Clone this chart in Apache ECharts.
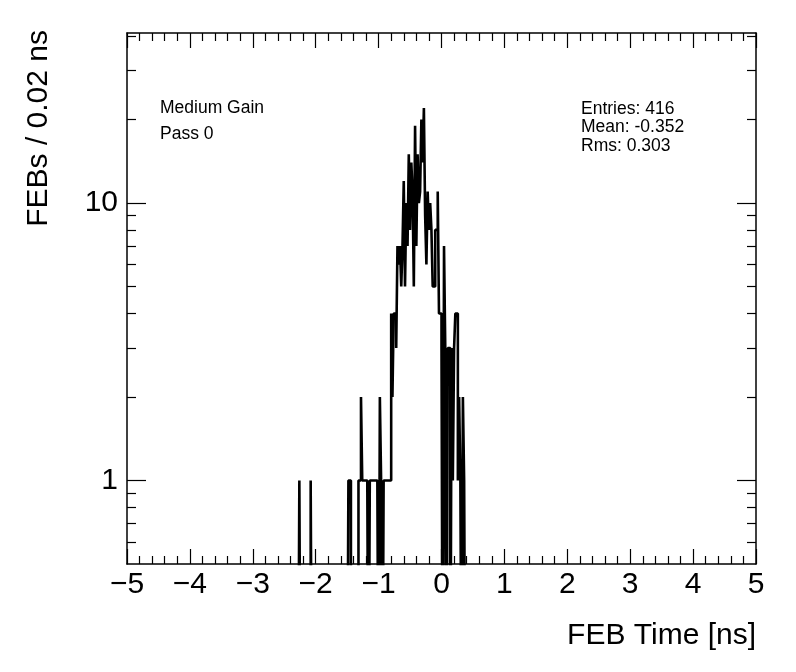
<!DOCTYPE html>
<html><head><meta charset="utf-8">
<script src="https://cdn.jsdelivr.net/npm/echarts@6/dist/echarts.min.js"></script>
<style>html,body{margin:0;padding:0;background:#fff}#c{width:796px;height:672px}</style>
</head><body><div id="c"></div>
<script>
// Histogram definition: bins of 0.02 ns; counts start at the bin whose low edge is firstBinLow
const binWidth = 0.02;
const firstBinLow = -2.28;
const counts = [
  0,1,0,0,0,0,0,0,0,0,1,
  0,0,0,0,0,0,0,0,0,0,0,0,0,0,0,0,0,0,0,0,0,0,0,0,0,0,0,0,0,
  1,1,0,0,0,0,0,0,
  1,1,2,1,1,1,1,1,0,1,1,1,1,1,1,1,0,2,1,0,1,1,1,1,1,1,
  4,2,4,4,3,7,6,7,5,7,
  12,5,10,7,15,8,14,11,5,19,
  7,15,10,11,20,14,22,9,6,11,
  8,10,8,5,5,8,8,11,4,4,
  3,0,7,3,0,3,3,0,3,1,
  3,4,4,1,2,1,0,2,1,0,
  0
];
const xTickValues = [-5,-4,-3,-2,-1,0,1,2,3,4,5];
const yLabelValues = [1, 10];
const yMinorTickValues = [0.6,0.7,0.8,0.9,2,3,4,5,6,7,8,9,20,30,40];
const infoLines = ['Medium Gain', 'Pass 0'];
const statLines = ['Entries: 416', 'Mean: -0.352', 'Rms: 0.303'];
const xTitle = 'FEB Time [ns]';
const yTitle = 'FEBs / 0.02 ns';

const FONT = '"Liberation Sans", Arial, Helvetica, sans-serif';
const ZERO_FLOOR = 0.1; // empty bins drop below the frame (clipped), as in ROOT log plots
const histData = counts.map((c, i) => [+(firstBinLow + i * binWidth).toFixed(2), c > 0 ? c : ZERO_FLOOR]);

const black = '#000';
const frameLine = { show: true, onZero: false, lineStyle: { color: black, width: 1.5 } };
const hiddenLine = { show: false, onZero: false };
const tickStyle = { color: black, width: 1.2 };

const xBase = { type: 'value', min: -5, max: 5, interval: 1, splitLine: { show: false }, minorSplitLine: { show: false } };
const yBase = { type: 'log', logBase: 10, min: 0.5, max: 41, splitLine: { show: false }, minorSplitLine: { show: false } };

const chart = echarts.init(document.getElementById('c'), null, { renderer: 'canvas' });
chart.setOption({
  animation: false,
  backgroundColor: '#fff',
  grid: { left: 127, right: 40, top: 33, bottom: 108, containLabel: false },
  xAxis: [
    Object.assign({}, xBase, {
      position: 'bottom',
      axisLine: frameLine,
      axisTick: { show: true, inside: true, length: 15, lineStyle: tickStyle },
      minorTick: { show: true, splitNumber: 5, length: 8, lineStyle: tickStyle },
      axisLabel: {
        show: true, margin: 6, fontSize: 30, color: black, fontFamily: FONT,
        customValues: xTickValues,
        formatter: v => (v < 0 ? '\u2212' + Math.abs(v) : String(v))
      }
    }),
    Object.assign({}, xBase, {
      position: 'top',
      axisLine: frameLine,
      axisTick: { show: true, inside: true, length: 15, lineStyle: tickStyle },
      minorTick: { show: true, splitNumber: 5, length: 8, lineStyle: tickStyle },
      axisLabel: { show: false }
    })
  ],
  yAxis: [
    Object.assign({}, yBase, {
      position: 'left',
      axisLine: frameLine,
      axisTick: { show: true, inside: true, length: 19, customValues: yLabelValues, lineStyle: tickStyle },
      axisLabel: { show: true, customValues: yLabelValues, fontSize: 30, color: black, margin: 9, fontFamily: FONT }
    }),
    Object.assign({}, yBase, {
      position: 'left',
      axisLine: hiddenLine,
      axisTick: { show: true, inside: true, length: 9, customValues: yMinorTickValues, lineStyle: tickStyle },
      axisLabel: { show: false }
    }),
    Object.assign({}, yBase, {
      position: 'right',
      axisLine: frameLine,
      axisTick: { show: true, inside: true, length: 19, customValues: yLabelValues, lineStyle: tickStyle },
      axisLabel: { show: false }
    }),
    Object.assign({}, yBase, {
      position: 'right',
      axisLine: hiddenLine,
      axisTick: { show: true, inside: true, length: 9, customValues: yMinorTickValues, lineStyle: tickStyle },
      axisLabel: { show: false }
    })
  ],
  series: [{
    type: 'line',
    xAxisIndex: 0,
    yAxisIndex: 0,
    data: histData,
    step: 'end',
    showSymbol: false,
    symbol: 'none',
    clip: true,
    lineStyle: { color: black, width: 2.6 },
    silent: true
  }],
  graphic: [
    { type: 'text', x: 160, y: 108, style: { text: infoLines[0], font: '17.5px ' + FONT, fill: black, align: 'left', verticalAlign: 'middle' } },
    { type: 'text', x: 160, y: 134, style: { text: infoLines[1], font: '17.5px ' + FONT, fill: black, align: 'left', verticalAlign: 'middle' } },
    { type: 'text', x: 581, y: 109, style: { text: statLines[0], font: '17.5px ' + FONT, fill: black, align: 'left', verticalAlign: 'middle' } },
    { type: 'text', x: 581, y: 127.5, style: { text: statLines[1], font: '17.5px ' + FONT, fill: black, align: 'left', verticalAlign: 'middle' } },
    { type: 'text', x: 581, y: 146, style: { text: statLines[2], font: '17.5px ' + FONT, fill: black, align: 'left', verticalAlign: 'middle' } },
    { type: 'text', x: 756, y: 636, style: { text: xTitle, font: '30px ' + FONT, fill: black, align: 'right', verticalAlign: 'middle' } },
    { type: 'text', x: 39, y: 30, rotation: Math.PI / 2, style: { text: yTitle, font: '30px ' + FONT, fill: black, align: 'right', verticalAlign: 'middle' } }
  ]
});
</script>
</body></html>
